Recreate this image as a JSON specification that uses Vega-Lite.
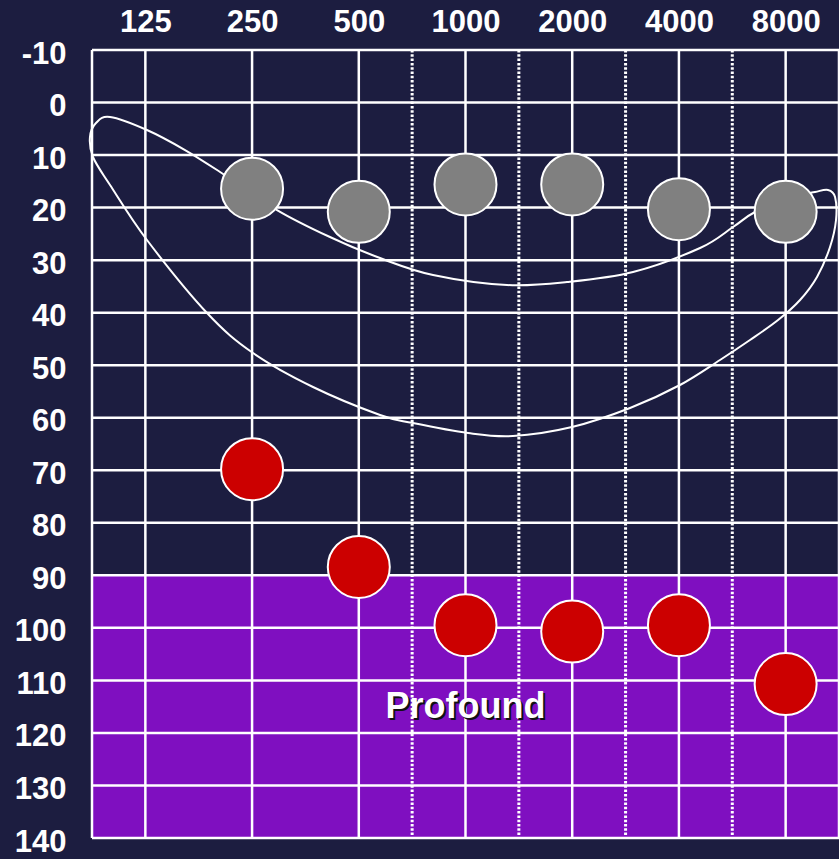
{
  "$schema": "https://vega.github.io/schema/vega-lite/v6.json",
  "width": 747,
  "height": 788,
  "autosize": {"type": "none"},
  "padding": {"left": 92, "top": 50, "right": 0, "bottom": 21},
  "background": "#1c1d40",
  "config": {"view": {"stroke": null}, "font": "Liberation Sans", "axis": {"grid": false}},
  "datasets": {
    "zone": [{"x0": -0.5, "x1": 6.5, "y0": 90, "y1": 140, "label": "Profound", "lx": 3, "ly": 115}],
    "hlines": [{"db": -10}, {"db": 0}, {"db": 10}, {"db": 20}, {"db": 30}, {"db": 40}, {"db": 50}, {"db": 60}, {"db": 70}, {"db": 80}, {"db": 90}, {"db": 100}, {"db": 110}, {"db": 120}, {"db": 130}, {"db": 140}],
    "vlines": [{"oct": -0.5}, {"oct": 0}, {"oct": 1}, {"oct": 2}, {"oct": 3}, {"oct": 4}, {"oct": 5}, {"oct": 6}, {"oct": 6.5}],
    "dlines": [{"oct": 2.5}, {"oct": 3.5}, {"oct": 4.5}, {"oct": 5.5}],
    "banana": [
      {"i": 1, "bx": -0.331, "by": 2.75},
      {"i": 2, "bx": 0.015, "by": 5.23},
      {"i": 3, "bx": 0.372, "by": 9.04},
      {"i": 4, "bx": 0.70, "by": 13.22},
      {"i": 5, "bx": 1.234, "by": 20.46},
      {"i": 6, "bx": 1.73, "by": 25.6},
      {"i": 7, "bx": 2.199, "by": 29.6},
      {"i": 8, "bx": 2.696, "by": 32.83},
      {"i": 9, "bx": 3.389, "by": 34.74},
      {"i": 10, "bx": 3.951, "by": 34.17},
      {"i": 11, "bx": 4.57, "by": 32.26},
      {"i": 12, "bx": 5.198, "by": 27.69},
      {"i": 13, "bx": 5.507, "by": 23.7},
      {"i": 14, "bx": 5.713, "by": 20.84},
      {"i": 15, "bx": 6.041, "by": 18.17},
      {"i": 16, "bx": 6.275, "by": 17.03},
      {"i": 17, "bx": 6.397, "by": 16.65},
      {"i": 18, "bx": 6.463, "by": 17.98},
      {"i": 19, "bx": 6.472, "by": 22.36},
      {"i": 20, "bx": 6.416, "by": 27.5},
      {"i": 21, "bx": 6.294, "by": 33.21},
      {"i": 22, "bx": 6.135, "by": 37.59},
      {"i": 23, "bx": 5.929, "by": 41.4},
      {"i": 24, "bx": 5.666, "by": 45.21},
      {"i": 25, "bx": 5.385, "by": 49.01},
      {"i": 26, "bx": 5.01, "by": 53.77},
      {"i": 27, "bx": 4.542, "by": 58.15},
      {"i": 28, "bx": 3.998, "by": 61.77},
      {"i": 29, "bx": 3.445, "by": 63.48},
      {"i": 30, "bx": 3.024, "by": 62.91},
      {"i": 31, "bx": 2.508, "by": 61.01},
      {"i": 32, "bx": 2.199, "by": 59.48},
      {"i": 33, "bx": 1.571, "by": 54.15},
      {"i": 34, "bx": 1.009, "by": 47.68},
      {"i": 35, "bx": 0.578, "by": 40.07},
      {"i": 36, "bx": 0.015, "by": 26.17},
      {"i": 37, "bx": -0.331, "by": 15.7},
      {"i": 38, "bx": -0.491, "by": 10.37},
      {"i": 39, "bx": -0.519, "by": 6.56},
      {"i": 40, "bx": -0.4625, "by": 3.9}
    ],
    "points": [
      {"freq": "250", "oct": 1, "db": 16.4, "series": "A"},
      {"freq": "500", "oct": 2, "db": 20.8, "series": "A"},
      {"freq": "1000", "oct": 3, "db": 15.6, "series": "A"},
      {"freq": "2000", "oct": 4, "db": 15.6, "series": "A"},
      {"freq": "4000", "oct": 5, "db": 20.3, "series": "A"},
      {"freq": "8000", "oct": 6, "db": 20.8, "series": "A"},
      {"freq": "250", "oct": 1, "db": 69.8, "series": "B"},
      {"freq": "500", "oct": 2, "db": 88.4, "series": "B"},
      {"freq": "1000", "oct": 3, "db": 99.5, "series": "B"},
      {"freq": "2000", "oct": 4, "db": 100.7, "series": "B"},
      {"freq": "4000", "oct": 5, "db": 99.5, "series": "B"},
      {"freq": "8000", "oct": 6, "db": 110.7, "series": "B"}
    ]
  },
  "layer": [
    {
      "data": {"name": "zone"},
      "mark": {"type": "rect", "fill": "#7f0fc0"},
      "encoding": {
        "x": {
          "field": "x0", "type": "quantitative", "title": null,
          "scale": {"domain": [-0.5, 6.5], "nice": false, "zero": false},
          "axis": {
            "orient": "top", "values": [0, 1, 2, 3, 4, 5, 6],
            "labelExpr": "['125','250','500','1000','2000','4000','8000'][datum.value]",
            "domain": false, "ticks": false, "tickSize": 0, "grid": false, "title": null,
            "labelFontSize": 31, "labelFontWeight": "bold", "labelColor": "white",
            "labelPadding": 12, "labelFont": "Liberation Sans", "labelFlush": false
          }
        },
        "x2": {"field": "x1"},
        "y": {
          "field": "y0", "type": "quantitative", "title": null,
          "scale": {"domain": [-10, 140], "reverse": true, "nice": false, "zero": false},
          "axis": {
            "values": [-10, 0, 10, 20, 30, 40, 50, 60, 70, 80, 90, 100, 110, 120, 130, 140],
            "labelExpr": "'' + datum.value",
            "domain": false, "ticks": false, "tickSize": 0, "grid": false, "title": null,
            "labelFontSize": 31, "labelFontWeight": "bold", "labelColor": "white",
            "labelPadding": 26, "labelOffset": 4, "labelFont": "Liberation Sans", "labelFlush": false
          }
        },
        "y2": {"field": "y1"}
      }
    },
    {
      "data": {"name": "hlines"},
      "mark": {"type": "rule", "color": "white", "strokeWidth": 2.5},
      "encoding": {
        "y": {"field": "db", "type": "quantitative", "title": null}
      }
    },
    {
      "data": {"name": "vlines"},
      "mark": {"type": "rule", "color": "white", "strokeWidth": 2.5},
      "encoding": {
        "x": {"field": "oct", "type": "quantitative", "title": null}
      }
    },
    {
      "data": {"name": "dlines"},
      "mark": {"type": "rule", "color": "white", "strokeWidth": 3, "strokeDash": [2.5, 1.8]},
      "encoding": {
        "x": {"field": "oct", "type": "quantitative", "title": null}
      }
    },
    {
      "data": {"name": "banana"},
      "mark": {"type": "line", "color": "white", "strokeWidth": 2, "interpolate": "cardinal-closed"},
      "encoding": {
        "x": {"field": "bx", "type": "quantitative", "title": null},
        "y": {"field": "by", "type": "quantitative", "title": null},
        "order": {"field": "i", "type": "quantitative"}
      }
    },
    {
      "data": {"name": "points"},
      "mark": {"type": "circle", "opacity": 1, "stroke": "white", "strokeWidth": 2, "size": 3844},
      "encoding": {
        "x": {"field": "oct", "type": "quantitative", "title": null},
        "y": {"field": "db", "type": "quantitative", "title": null},
        "fill": {"field": "series", "type": "nominal", "scale": {"domain": ["A", "B"], "range": ["#808080", "#cc0000"]}, "legend": null}
      }
    },
    {
      "data": {"name": "zone"},
      "mark": {"type": "text", "font": "Liberation Sans", "fontWeight": "bold", "fontSize": 36, "color": "#111111", "dx": 2, "dy": 2, "baseline": "middle"},
      "encoding": {
        "x": {"field": "lx", "type": "quantitative", "title": null},
        "y": {"field": "ly", "type": "quantitative", "title": null},
        "text": {"field": "label"}
      }
    },
    {
      "data": {"name": "zone"},
      "mark": {"type": "text", "font": "Liberation Sans", "fontWeight": "bold", "fontSize": 36, "color": "white", "baseline": "middle"},
      "encoding": {
        "x": {"field": "lx", "type": "quantitative", "title": null},
        "y": {"field": "ly", "type": "quantitative", "title": null},
        "text": {"field": "label"}
      }
    }
  ]
}
